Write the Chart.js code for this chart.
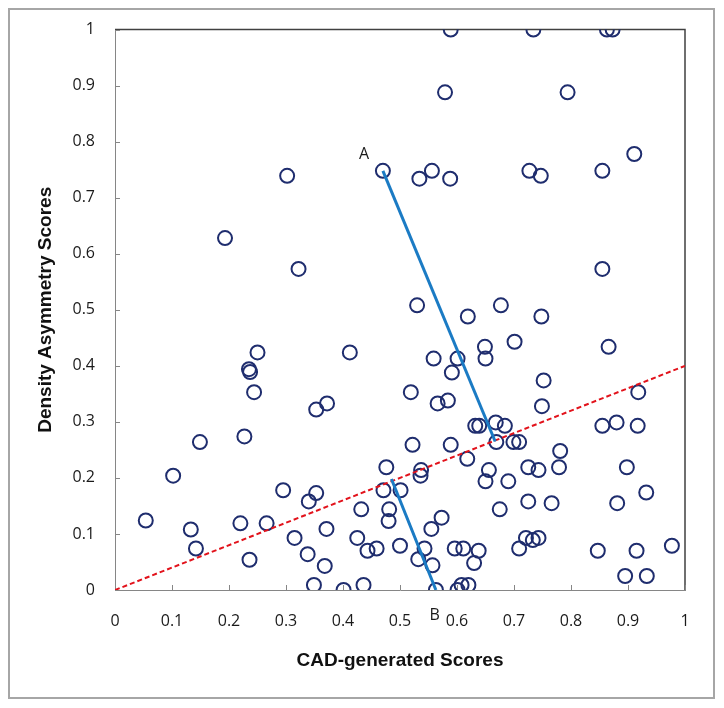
<!DOCTYPE html>
<html>
<head>
<meta charset="utf-8">
<script src="https://cdn.jsdelivr.net/npm/chart.js@4.4.1/dist/chart.umd.min.js"></script>
<style>
  html, body { margin: 0; padding: 0; background: #fff; }
  #wrap { width: 724px; height: 708px; }
</style>
</head>
<body>
<div id="wrap"><canvas id="chart" width="724" height="708"></canvas></div>
<script>
// CAD score (x) and density asymmetry score (y) for each case
const cadScores = [
  0.589, 0.734, 0.863, 0.873, 0.579, 0.794, 0.911, 0.470, 0.302, 0.534,
  0.556, 0.588, 0.727, 0.747, 0.855, 0.193, 0.322, 0.855, 0.530, 0.677,
  0.619, 0.748, 0.649, 0.650, 0.701, 0.866, 0.559, 0.601, 0.591, 0.752,
  0.749, 0.918, 0.566, 0.584, 0.632, 0.639, 0.668, 0.684, 0.669, 0.699,
  0.709, 0.855, 0.880, 0.917, 0.522, 0.589, 0.618, 0.781, 0.779, 0.898,
  0.537, 0.536, 0.656, 0.650, 0.690, 0.725, 0.743, 0.501, 0.675, 0.725,
  0.766, 0.881, 0.932, 0.573, 0.555, 0.500, 0.543, 0.532, 0.557, 0.563,
  0.596, 0.611, 0.638, 0.630, 0.601, 0.608, 0.620, 0.721, 0.733, 0.743,
  0.709, 0.847, 0.915, 0.977, 0.895, 0.933, 0.250, 0.235, 0.237, 0.244,
  0.412, 0.519, 0.353, 0.372, 0.227, 0.149, 0.102, 0.054, 0.133, 0.142,
  0.220, 0.266, 0.236, 0.295, 0.340, 0.353, 0.315, 0.338, 0.368, 0.371,
  0.349, 0.401, 0.436, 0.425, 0.443, 0.459, 0.432, 0.476, 0.471, 0.481,
  0.480
];
const asymScores = [
  1.000, 1.000, 1.000, 1.000, 0.888, 0.888, 0.778, 0.748, 0.739, 0.734,
  0.748, 0.734, 0.748, 0.739, 0.748, 0.628, 0.573, 0.573, 0.508, 0.508,
  0.488, 0.488, 0.434, 0.413, 0.443, 0.434, 0.413, 0.413, 0.388, 0.374,
  0.328, 0.353, 0.333, 0.338, 0.293, 0.293, 0.299, 0.293, 0.264, 0.264,
  0.264, 0.293, 0.299, 0.293, 0.259, 0.259, 0.234, 0.248, 0.219, 0.219,
  0.214, 0.204, 0.214, 0.194, 0.194, 0.219, 0.214, 0.178, 0.144, 0.158,
  0.155, 0.155, 0.174, 0.129, 0.109, 0.079, 0.074, 0.055, 0.044, 0.000,
  0.074, 0.074, 0.070, 0.048, 0.000, 0.009, 0.009, 0.093, 0.089, 0.093,
  0.074, 0.070, 0.070, 0.079, 0.025, 0.025, 0.424, 0.394, 0.389, 0.353,
  0.424, 0.353, 0.322, 0.333, 0.274, 0.264, 0.204, 0.124, 0.108, 0.074,
  0.119, 0.119, 0.054, 0.178, 0.158, 0.173, 0.093, 0.064, 0.043, 0.109,
  0.009, 0.000, 0.009, 0.093, 0.070, 0.074, 0.144, 0.219, 0.178, 0.144,
  0.123
];

const tickValues = [0, 0.1, 0.2, 0.3, 0.4, 0.5, 0.6, 0.7, 0.8, 0.9, 1];

// reference line y = 0.4x
const refLineX = [0, 1];
const refLineY = [0, 0.4];

// the A -> B segments
const upperSegX = [0.470, 0.667];
const upperSegY = [0.748, 0.265];
const lowerSegX = [0.485, 0.563];
const lowerSegY = [0.198, 0.000];

// point labels
const markNames = ['A', 'B'];
const markX = [0.437, 0.561];
const markY = [0.778, -0.046];

const toPoints = (xs, ys) => xs.map((x, i) => ({ x: x, y: ys[i] }));

const framePlugin = {
  id: 'frame',
  beforeDraw(chart) {
    const ctx = chart.ctx;
    ctx.save();
    ctx.fillStyle = '#fff';
    ctx.fillRect(0, 0, chart.width, chart.height);
    ctx.strokeStyle = '#a6a6a6';
    ctx.lineWidth = 2;
    ctx.strokeRect(9, 9, 705, 689);
    ctx.restore();
  },
  beforeDatasetsDraw(chart) {
    const { ctx, chartArea: a, scales } = chart;
    ctx.save();
    // top and right edges of the plot box
    ctx.strokeStyle = '#404040';
    ctx.lineWidth = 1.5;
    ctx.beginPath();
    ctx.moveTo(a.left, a.top);
    ctx.lineTo(a.right, a.top);
    ctx.lineTo(a.right, a.bottom);
    ctx.stroke();
    // inside tick marks
    ctx.strokeStyle = '#868686';
    ctx.lineWidth = 1;
    ctx.beginPath();
    tickValues.forEach(v => {
      const px = Math.round(scales.x.getPixelForValue(v)) + 0.5;
      ctx.moveTo(px, a.bottom);
      ctx.lineTo(px, a.bottom - 5);
      const py = Math.round(scales.y.getPixelForValue(v)) + 0.5;
      ctx.moveTo(a.left, py);
      ctx.lineTo(a.left + 5, py);
    });
    ctx.stroke();
    ctx.restore();
  },
  afterDraw(chart) {
    const { ctx, scales } = chart;
    ctx.save();
    ctx.fillStyle = '#1a1a1a';
    ctx.font = '16px "Open Sans"';
    ctx.textAlign = 'center';
    ctx.textBaseline = 'middle';
    markNames.forEach((name, i) => {
      ctx.fillText(name, scales.x.getPixelForValue(markX[i]), scales.y.getPixelForValue(markY[i]));
    });
    ctx.restore();
  }
};

const ctx = document.getElementById('chart').getContext('2d');
new Chart(ctx, {
  type: 'scatter',
  data: {
    datasets: [
      {
        label: 'Cases',
        data: toPoints(cadScores, asymScores),
        pointStyle: 'circle',
        pointRadius: 7,
        pointHoverRadius: 7,
        pointBorderWidth: 2,
        borderColor: '#1f2d6e',
        backgroundColor: 'rgba(0,0,0,0)',
        order: 3
      },
      {
        label: 'Reference',
        data: toPoints(refLineX, refLineY),
        showLine: true,
        pointRadius: 0,
        borderColor: '#e2121b',
        borderWidth: 2,
        borderDash: [5, 3],
        order: 2
      },
      {
        label: 'Upper',
        data: toPoints(upperSegX, upperSegY),
        showLine: true,
        pointRadius: 0,
        borderColor: '#1b7bc4',
        borderWidth: 3,
        order: 1
      },
      {
        label: 'Lower',
        data: toPoints(lowerSegX, lowerSegY),
        showLine: true,
        pointRadius: 0,
        borderColor: '#1b7bc4',
        borderWidth: 3,
        order: 1
      }
    ]
  },
  options: {
    responsive: false,
    animation: false,
    devicePixelRatio: 1,
    events: [],
    layout: { padding: { left: 0, right: 39, top: 26, bottom: 0 } },
    plugins: {
      legend: { display: false },
      tooltip: { enabled: false }
    },
    scales: {
      x: {
        type: 'linear',
        min: 0,
        max: 1,
        afterBuildTicks: s => { s.ticks = tickValues.map(v => ({ value: v })); },
        afterFit: s => { s.height = 118; },
        grid: { display: true, drawOnChartArea: false, drawTicks: false },
        border: { display: true, color: '#868686', width: 1 },
        ticks: {
          padding: 22,
          color: '#1a1a1a',
          font: { family: '"Open Sans"', size: 16 },
          callback: v => String(+v.toFixed(1))
        },
        title: {
          display: true,
          text: 'CAD-generated Scores',
          color: '#111',
          font: { family: '"Liberation Sans", Arial', size: 19, weight: 'bold', lineHeight: 1 },
          padding: { top: 0, bottom: 37.5 }
        }
      },
      y: {
        type: 'linear',
        min: 0,
        max: 1,
        afterBuildTicks: s => { s.ticks = tickValues.map(v => ({ value: v })); },
        afterFit: s => { s.width = 115; },
        grid: { display: true, drawOnChartArea: false, drawTicks: false },
        border: { display: true, color: '#868686', width: 1 },
        ticks: {
          padding: 20,
          color: '#1a1a1a',
          font: { family: '"Open Sans"', size: 16 },
          callback: v => String(+v.toFixed(1))
        },
        title: {
          display: true,
          text: 'Density Asymmetry Scores',
          color: '#111',
          font: { family: '"Liberation Sans", Arial', size: 19, weight: 'bold', lineHeight: 1 },
          padding: { top: 36.5, bottom: 0 }
        }
      }
    }
  },
  plugins: [framePlugin]
});
</script>
</body>
</html>
